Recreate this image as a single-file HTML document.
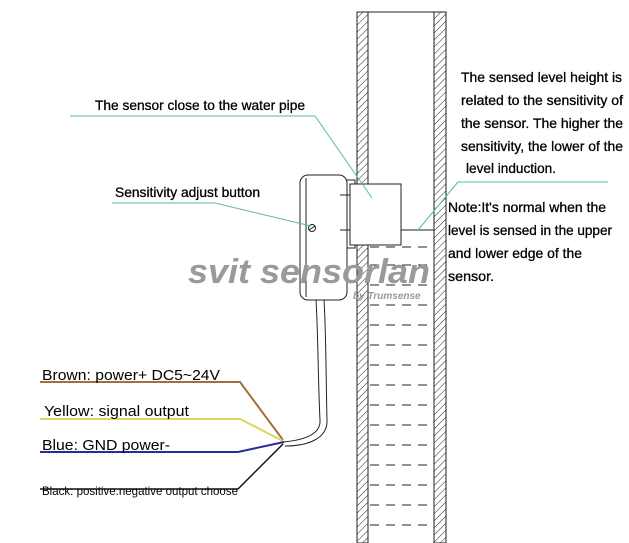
<!DOCTYPE html>
<html><head><style>
body{margin:0;background:#fff;width:629px;height:543px;overflow:hidden}
svg{display:block}
text{font-family:"Liberation Sans",Arial,sans-serif;fill:#000}
</style></head><body>
<svg width="629" height="543" viewBox="0 0 629 543" xmlns="http://www.w3.org/2000/svg">
<defs>
<pattern id="h" width="5" height="5" patternUnits="userSpaceOnUse" patternTransform="rotate(45)">
<rect width="5" height="5" fill="#fff"/><line x1="0" y1="0" x2="0" y2="5" stroke="#222" stroke-width="1"/>
</pattern>
</defs>
<rect x="357" y="12" width="11" height="531" fill="url(#h)" stroke="#222" stroke-width="1"/>
<rect x="434" y="12" width="12" height="531" fill="url(#h)" stroke="#222" stroke-width="1"/>
<line x1="357" y1="12" x2="446" y2="12" stroke="#222"/>
<line x1="401" y1="230" x2="434" y2="230" stroke="#222"/>
<g stroke="#222" stroke-dasharray="9,7">
<line x1="370" y1="247" x2="434" y2="247"/>
<line x1="370" y1="265" x2="434" y2="265"/>
<line x1="370" y1="285" x2="434" y2="285"/>
<line x1="370" y1="305" x2="434" y2="305"/>
<line x1="370" y1="325" x2="434" y2="325"/>
<line x1="370" y1="345" x2="434" y2="345"/>
<line x1="370" y1="365" x2="434" y2="365"/>
<line x1="370" y1="385" x2="434" y2="385"/>
<line x1="370" y1="405" x2="434" y2="405"/>
<line x1="370" y1="425" x2="434" y2="425"/>
<line x1="370" y1="445" x2="434" y2="445"/>
<line x1="370" y1="465" x2="434" y2="465"/>
<line x1="370" y1="485" x2="434" y2="485"/>
<line x1="370" y1="505" x2="434" y2="505"/>
<line x1="370" y1="525" x2="434" y2="525"/>
</g>
<g fill="#fff" stroke="#222" stroke-width="1">
<path d="M340 180 H355 V248 H340 Z"/>
<rect x="300" y="175" width="47" height="125" rx="8"/>
<line x1="306" y1="178" x2="306" y2="297"/>
<line x1="340" y1="195" x2="355" y2="195"/>
<line x1="340" y1="230" x2="355" y2="230"/>
<rect x="350" y="184" width="51" height="61"/>
<circle cx="312" cy="228" r="3.5"/>
<line x1="309" y1="230" x2="315" y2="226"/>
</g>
<path d="M316 300 C318 330 318 380 320 420 C321 434 305 440 283 442" fill="none" stroke="#222"/>
<path d="M324 300 C326 330 326 380 327 420 C328 440 305 446 285 446" fill="none" stroke="#222"/>
<polyline points="40,382 240,382 283,440" fill="none" stroke="#a0703a" stroke-width="2"/>
<polyline points="40,419 240,419 283,441" fill="none" stroke="#d8d860" stroke-width="2"/>
<polyline points="40,452 238,452 284,442" fill="none" stroke="#2a2aa0" stroke-width="2"/>
<polyline points="40,489 238,489 283,444" fill="none" stroke="#111" stroke-width="1.5"/>
<g stroke="#5ab8a8" stroke-width="1" fill="none">
<polyline points="70,116 315,116 372,198"/>
<polyline points="112,203 215,203 311,226"/>
<polyline points="608,182 458,182 418,230"/>
</g>
<text x="188" y="283" font-size="34" font-weight="bold" font-style="italic" style="fill:#9a9a9a" textLength="242" lengthAdjust="spacingAndGlyphs">svit sensorlan</text>
<text x="353" y="299" font-size="10" font-style="italic" font-weight="bold" style="fill:#999">by Trumsense</text>
<g font-size="14" stroke="#000" stroke-width="0.3">
<text x="95" y="110" textLength="210" lengthAdjust="spacingAndGlyphs">The sensor close to the water pipe</text>
<text x="115" y="197" textLength="145" lengthAdjust="spacingAndGlyphs">Sensitivity adjust button</text>
<text x="461" y="82" textLength="161" lengthAdjust="spacingAndGlyphs">The sensed level height is</text>
<text x="461" y="105" textLength="162" lengthAdjust="spacingAndGlyphs">related to the sensitivity of</text>
<text x="461" y="128" textLength="162" lengthAdjust="spacingAndGlyphs">the sensor. The higher the</text>
<text x="461" y="151" textLength="162" lengthAdjust="spacingAndGlyphs">sensitivity, the lower of the</text>
<text x="466" y="173" textLength="90" lengthAdjust="spacingAndGlyphs">level induction.</text>
<text x="448" y="212" textLength="158" lengthAdjust="spacingAndGlyphs">Note:It's normal when the</text>
<text x="448" y="235" textLength="164" lengthAdjust="spacingAndGlyphs">level is sensed in the upper</text>
<text x="448" y="258" textLength="134" lengthAdjust="spacingAndGlyphs">and lower edge of the</text>
<text x="448" y="281" textLength="46" lengthAdjust="spacingAndGlyphs">sensor.</text>
</g>
<g font-size="15">
<text x="42" y="380" textLength="178" lengthAdjust="spacingAndGlyphs">Brown: power+ DC5~24V</text>
<text x="44" y="416" textLength="145" lengthAdjust="spacingAndGlyphs">Yellow: signal output</text>
<text x="42" y="450" textLength="128" lengthAdjust="spacingAndGlyphs">Blue: GND power-</text>
</g>
<text x="42" y="495" font-size="12" textLength="196" lengthAdjust="spacingAndGlyphs">Black: positive.negative output choose</text>
</svg>
</body></html>
